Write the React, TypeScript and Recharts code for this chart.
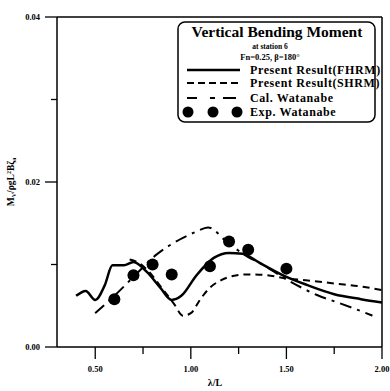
import { ComposedChart, Line, Scatter, XAxis, YAxis, ReferenceLine } from "recharts";

// Present Result (FHRM)
const fhrmX = [0.4, 0.45, 0.5, 0.55, 0.59, 0.65, 0.7, 0.77, 0.84, 0.9, 0.95, 1.03, 1.12, 1.2, 1.27, 1.36, 1.5, 1.61, 1.75, 1.89, 2.0];
const fhrmY = [0.0062, 0.0068, 0.0057, 0.0075, 0.0099, 0.0099, 0.0103, 0.0091, 0.0072, 0.0057, 0.0062, 0.0087, 0.0108, 0.0114, 0.0113, 0.0102, 0.0085, 0.0075, 0.0064, 0.0058, 0.0054];

// Present Result (SHRM)
const shrmX = [0.68, 0.72, 0.77, 0.85, 0.91, 0.96, 1.0, 1.05, 1.1, 1.15, 1.22, 1.3, 1.4, 1.5, 1.6, 1.75, 1.9, 2.0];
const shrmY = [0.0106, 0.0103, 0.0094, 0.0071, 0.0053, 0.0038, 0.0041, 0.0058, 0.0072, 0.008, 0.0086, 0.0088, 0.0087, 0.0083, 0.0081, 0.0077, 0.0073, 0.0069];

// Cal. Watanabe
const calX = [0.5, 0.6, 0.7, 0.82, 0.94, 1.03, 1.09, 1.19, 1.3, 1.36, 1.5, 1.66, 1.78, 1.85, 1.95];
const calY = [0.0041, 0.0062, 0.0085, 0.0112, 0.013, 0.014, 0.0145, 0.0127, 0.0109, 0.0102, 0.0082, 0.0063, 0.0053, 0.0047, 0.0038];

// Exp. Watanabe
const expX = [0.6, 0.7, 0.8, 0.9, 1.1, 1.2, 1.3, 1.5];
const expY = [0.0058, 0.0087, 0.01, 0.0088, 0.0098, 0.0128, 0.0118, 0.0095];

const xTicks = [0.5, 0.75, 1.0, 1.25, 1.5, 1.75, 2.0];
const xMajor = [0.5, 1.0, 1.5, 2.0];
const yTicks = [0, 0.01, 0.02, 0.03, 0.04];
const yMajor = [0, 0.02, 0.04];

const zip = (xs: number[], ys: number[]) => xs.map((x, i) => ({ x, y: ys[i] }));

const fhrm = zip(fhrmX, fhrmY);
const shrm = zip(shrmX, shrmY);
const cal = zip(calX, calY);
const exp = zip(expX, expY);

const FONT = "'Liberation Serif', 'DejaVu Serif', serif";

const XTick = (props: any) => {
  const { x, y, payload } = props;
  const major = xMajor.includes(payload.value);
  return (
    <g>
      <line x1={x} x2={x} y1={y} y2={y + (major ? 12 : 7)} stroke="#000" strokeWidth={1.3} />
      {major && (
        <text x={x} y={y + 25} textAnchor="middle" fontSize={8.5} fontWeight="bold" fontFamily={FONT} fill="#000">
          {payload.value.toFixed(2)}
        </text>
      )}
    </g>
  );
};

const YTick = (props: any) => {
  const { x, y, payload } = props;
  const major = yMajor.includes(payload.value);
  return (
    <g>
      <line x1={x - (major ? 12 : 6)} x2={x} y1={y} y2={y} stroke="#000" strokeWidth={1.3} />
      {major && (
        <text x={x - 17} y={y + 3} textAnchor="end" fontSize={8.5} fontWeight="bold" fontFamily={FONT} fill="#000">
          {payload.value.toFixed(2)}
        </text>
      )}
    </g>
  );
};

const Dot = (props: any) => <circle cx={props.cx} cy={props.cy} r={6} fill="#000" />;

const App = () => {
  return (
    <div style={{ position: "absolute", left: 0, top: 0, width: 390, height: 391, background: "#fff" }}>
      <ComposedChart width={390} height={391} margin={{ top: 17, right: 8, left: 0, bottom: 0 }}>
        <XAxis
          dataKey="x"
          type="number"
          domain={[0.3, 2.0]}
          ticks={xTicks}
          height={44}
          tickSize={0}
          tickMargin={0}
          tick={<XTick />}
          axisLine={{ stroke: "#000", strokeWidth: 1.5 }}
          allowDataOverflow
        />
        <YAxis
          type="number"
          domain={[0, 0.04]}
          ticks={yTicks}
          width={57}
          tickSize={0}
          tickMargin={0}
          tick={<YTick />}
          axisLine={{ stroke: "#000", strokeWidth: 1.5 }}
          allowDataOverflow
        />
        <ReferenceLine x={2.0} stroke="#000" strokeWidth={1.5} />
        <ReferenceLine y={0.04} stroke="#000" strokeWidth={1.5} />
        <Line data={cal} dataKey="y" type="monotone" stroke="#000" strokeWidth={2} strokeDasharray="12 6 3 6" dot={false} isAnimationActive={false} />
        <Line data={shrm} dataKey="y" type="monotone" stroke="#000" strokeWidth={2} strokeDasharray="7 5" dot={false} isAnimationActive={false} />
        <Line data={fhrm} dataKey="y" type="monotone" stroke="#000" strokeWidth={2.5} dot={false} isAnimationActive={false} />
        <Scatter data={exp} dataKey="y" shape={<Dot />} isAnimationActive={false} />
      </ComposedChart>

      <svg width={390} height={391} style={{ position: "absolute", left: 0, top: 0, pointerEvents: "none" }}>
        {/* legend box */}
        <rect x={178} y={22} width={197} height={100} rx={7} fill="#fff" stroke="#000" strokeWidth={1.5} />
        <text x={277} y={37} textAnchor="middle" fontSize={15.5} fontWeight="bold" fontFamily={FONT}>
          Vertical Bending Moment
        </text>
        <text x={270} y={49} textAnchor="middle" fontSize={7.5} fontWeight="bold" fontFamily={FONT}>
          at station 6
        </text>
        <text x={270} y={60} textAnchor="middle" fontSize={8.5} fontWeight="bold" fontFamily={FONT}>
          Fn=0.25, β=180°
        </text>
        <line x1={187} x2={240} y1={70} y2={70} stroke="#000" strokeWidth={2.5} />
        <line x1={187} x2={240} y1={83} y2={83} stroke="#000" strokeWidth={2} strokeDasharray="7 4" />
        <line x1={187} x2={197} y1={98} y2={98} stroke="#000" strokeWidth={2} />
        <line x1={210} x2={215} y1={98} y2={98} stroke="#000" strokeWidth={2} />
        <line x1={223} x2={236} y1={98} y2={98} stroke="#000" strokeWidth={2} />
        <circle cx={188} cy={112} r={5.5} fill="#000" />
        <circle cx={213} cy={112} r={5.5} fill="#000" />
        <circle cx={237} cy={112} r={5.5} fill="#000" />
        <g fontSize={12} fontWeight="bold" fontFamily={FONT} letterSpacing={0.6}>
          <text x={250} y={74}>Present Result(FHRM)</text>
          <text x={250} y={87}>Present Result(SHRM)</text>
          <text x={250} y={102}>Cal. Watanabe</text>
          <text x={250} y={116}>Exp. Watanabe</text>
        </g>
        {/* axis titles */}
        <text x={215} y={386} textAnchor="middle" fontSize={10} fontWeight="bold" fontFamily={FONT}>
          λ/L
        </text>
        <text transform="translate(14,182) rotate(-90)" textAnchor="middle" fontSize={9.5} fontWeight="bold" fontFamily={FONT}>
          M<tspan fontSize={6} dy={2}>V</tspan>
          <tspan dy={-2}>/ρgL</tspan>
          <tspan fontSize={6} dy={-3}>2</tspan>
          <tspan dy={3}>Bζ</tspan>
          <tspan fontSize={6} dy={2}>a</tspan>
        </text>
      </svg>
    </div>
  );
};

export default App;
